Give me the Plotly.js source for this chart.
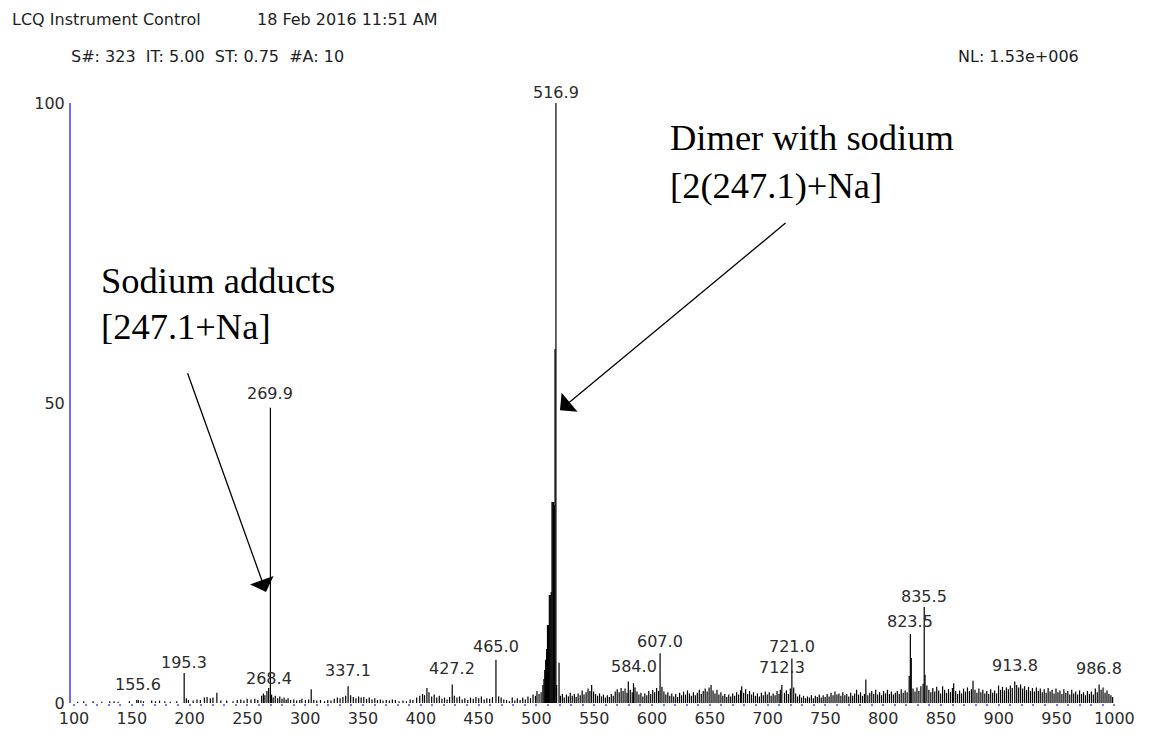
<!DOCTYPE html>
<html>
<head>
<meta charset="utf-8">
<script src="https://cdn.plot.ly/plotly-3.0.1.min.js"></script>
<style>
  html, body { margin: 0; padding: 0; background: #ffffff; }
  #chart { width: 1149px; height: 736px; }
</style>
</head>
<body>
<div id="chart"></div>
<script>
// ---- Spectrum data: m/z and relative abundance (%) ----

// Labelled centroid peaks
const peakMz  = [155.6, 195.3, 268.4, 269.9, 337.1, 427.2, 465.0, 516.9, 584.0, 607.0, 712.3, 721.0, 823.5, 835.5, 913.8, 986.8];
const peakInt = [0.5,   5.0,   2.5,   49.2,  2.8,   3.1,   7.2,   100,   3.3,   8.3,   3.0,   7.4,   11.5,  16.0,  3.6,   3.1];

// Isotope / profile envelope around the base peak
const clusterMz  = [506.5, 507.2, 508.0, 508.8, 509.6, 510.4, 511.2, 512.0, 512.8, 513.5, 514.2, 514.9, 515.5, 516.1, 517.5, 519.6];
const clusterInt = [4.0,   5.5,   7.2,   9.0,   13.0,  13.0,  18.0,  18.0,  18.5,  33.5,  33.5,  33.5,  33.0,  59.0,  3.0,   6.7];

// Neighbouring peaks of the m/z 823.5 / 835.5 pair
const pairMz  = [822.5, 824.3, 834.5, 836.2];
const pairInt = [4.5,   7.5,   3.2,   4.7];

// Low-mass background, m/z 100-260
const noiseLow = [
  [103.2,0.2],[108.4,0.3],[116.5,0.3],[124.1,0.2],[131.0,0.3],[134.6,0.3],[138.2,0.2],[147.9,0.3],
  [154.3,0.5],[157.8,0.4],[160.1,0.3],[167.2,0.4],[170.5,0.3],[174.0,0.4],[178.6,0.3],[183.2,0.2],
  [188.9,0.3],[197.2,0.8],[199.0,0.5],[203.1,0.4],[206.4,0.6],[209.3,0.5],[212.8,0.9],[215.1,1.0],
  [217.9,0.8],[220.2,0.9],[223.6,1.7],[227.0,0.4],[232.1,0.4],[237.6,0.3],[241.2,0.5],[244.3,0.6],
  [247.0,0.4],[249.8,0.7],[253.1,0.6],[256.4,0.7],[259.0,0.5]
];

// Mid-mass background, m/z 260-510
const noiseMid = [
  [262.3,1.2],[263.8,1.6],[265.1,1.3],[266.9,2.0],[270.9,1.4],[272.3,0.9],[274.1,1.2],[276.2,0.8],
  [278.0,1.1],[279.9,0.7],[281.7,0.9],[283.5,0.6],[285.2,0.8],[287.4,0.5],[290.1,0.6],[292.6,0.4],
  [295.3,0.5],[297.1,0.7],[300.2,0.5],[303.0,0.6],[305.2,2.3],[307.4,0.5],[310.0,0.4],[313.2,0.5],
  [316.7,0.3],[319.5,0.5],[322.3,0.4],[325.1,0.7],[327.8,0.9],[330.2,0.8],[332.6,1.0],[335.0,1.2],
  [339.3,1.3],[341.6,1.0],[343.9,0.8],[346.2,1.1],[348.4,0.9],[350.7,1.0],[353.1,0.7],[355.4,0.9],
  [357.8,0.6],[360.2,0.8],[362.5,0.5],[365.0,0.6],[367.3,0.4],[370.1,0.5],[372.8,0.4],[375.4,0.6],
  [378.0,0.5],[381.2,0.3],[384.6,0.4],[387.5,0.3],[390.8,0.6],[393.2,0.5],[396.4,0.9],[399.1,1.2],
  [401.5,1.5],[403.2,1.3],[405.3,2.5],[407.1,1.8],[409.4,1.1],[411.6,1.4],[413.8,0.9],[416.0,1.2],
  [418.3,0.7],[420.5,0.9],[422.7,0.6],[424.9,1.0],[429.0,1.2],[431.3,0.9],[433.5,1.1],[435.8,0.6],
  [438.1,0.8],[440.6,0.5],[443.0,0.9],[445.4,0.7],[447.7,1.0],[450.1,0.8],[452.4,1.1],[454.8,0.6],
  [457.1,0.8],[459.6,0.7],[462.0,1.0],[467.3,1.1],[469.5,0.9],[471.8,0.6],[474.2,0.5],[476.6,0.3],
  [479.1,0.9],[481.3,0.4],[483.5,0.8],[485.9,0.5],[488.2,0.9],[490.4,0.6],[492.7,1.1],[494.9,0.8],
  [497.1,1.4],[499.2,1.2],[500.5,2.0],[502.3,1.5],[504.1,1.8],[505.6,3.0]
];

// High-mass background, m/z 520-1000
const noiseHigh = [
  [520.8,1.2],[522.5,1.5],[524.1,0.9],[526.0,1.4],[527.7,1.1],[529.3,1.7],[531.0,1.2],[532.8,1.5],
  [534.4,1.0],[536.1,1.6],[537.9,1.3],[539.6,2.1],[541.2,1.4],[543.0,1.8],[544.7,2.4],[546.3,2.0],
  [547.8,3.0],[549.5,1.9],[551.2,1.5],[552.9,1.2],[554.6,1.6],[556.3,1.1],[558.0,1.4],[559.7,0.9],
  [561.4,1.3],[563.1,1.0],[564.8,1.5],[566.5,1.2],[568.2,1.9],[569.9,2.3],[571.6,1.8],[573.3,2.5],
  [575.0,2.0],[576.7,2.4],[578.4,1.7],[579.5,3.6],[581.2,2.2],[582.9,1.8],[585.3,2.6],[587.0,1.9],
  [588.7,1.4],[590.4,1.7],[592.1,1.1],[593.8,1.6],[595.5,1.3],[597.2,2.0],[598.9,1.5],[600.6,2.2],
  [602.3,1.8],[604.0,2.5],[605.7,2.0],[608.6,2.7],[610.3,1.9],[612.0,1.4],[613.7,1.8],[615.4,1.2],
  [617.1,1.6],[618.8,1.1],[620.5,1.5],[622.2,1.0],[623.9,1.7],[625.6,1.3],[627.3,1.9],[629.0,1.4],
  [630.7,2.1],[632.4,1.6],[634.1,1.2],[635.8,1.8],[637.5,1.3],[639.2,1.7],[640.9,2.2],[642.6,1.5],
  [644.3,2.0],[646.0,2.4],[647.7,1.9],[649.4,2.6],[651.1,3.0],[652.8,2.1],[654.5,1.6],[656.2,2.2],
  [657.9,1.4],[659.6,1.8],[661.3,1.2],[663.0,1.5],[664.7,1.0],[666.4,1.4],[668.1,1.1],[669.8,1.6],
  [671.5,1.2],[673.2,1.8],[674.9,1.4],[676.6,2.1],[677.6,2.8],[679.3,1.7],[681.0,2.3],[682.7,1.5],
  [684.4,2.0],[686.1,1.4],[687.8,1.8],[689.5,1.2],[691.2,1.6],[692.9,1.1],[694.6,1.7],[696.3,1.3],
  [698.0,1.9],[699.7,1.4],[701.4,1.8],[703.1,1.2],[704.8,1.6],[706.5,1.3],[708.2,2.0],[709.9,1.5],
  [711.0,2.2],[714.6,1.7],[716.3,2.1],[718.0,1.5],[719.7,2.4],[722.6,2.6],[724.3,1.6],[726.0,1.1],
  [727.7,1.4],[729.4,0.9],[731.1,1.2],[732.8,0.8],[734.5,1.1],[736.2,0.9],[737.9,1.3],[739.6,0.8],
  [741.3,1.2],[743.0,1.0],[744.7,1.4],[746.4,0.9],[748.1,1.3],[749.8,1.0],[751.5,1.5],[753.2,1.1],
  [754.9,1.7],[756.6,1.3],[758.3,1.9],[760.0,1.4],[761.7,1.6],[763.4,1.2],[765.1,1.8],[766.8,1.3],
  [768.5,1.5],[770.2,1.1],[771.9,1.7],[773.6,1.2],[775.3,1.6],[777.0,2.2],[778.7,1.4],[780.4,1.8],
  [782.1,1.2],[783.8,1.5],[785.0,3.9],[786.7,1.3],[788.4,1.7],[790.1,2.0],[791.8,1.5],[793.5,2.2],
  [795.2,1.4],[796.9,1.8],[798.6,1.3],[800.3,2.0],[802.0,1.6],[803.7,2.2],[805.4,1.5],[807.1,1.9],
  [808.8,1.4],[810.5,1.7],[812.2,2.0],[813.9,1.5],[815.6,2.3],[817.3,1.7],[819.0,2.1],[820.7,1.8],
  [825.8,2.4],[827.5,1.9],[829.2,2.6],[830.9,2.0],[832.6,2.8],[837.8,2.9],[839.5,2.2],[841.2,1.8],
  [842.9,2.5],[844.6,1.9],[846.3,2.7],[848.0,2.1],[849.7,1.6],[851.4,2.8],[853.1,2.2],[854.8,1.7],
  [856.5,2.3],[858.2,1.8],[859.9,2.5],[861.0,3.3],[862.7,2.0],[864.4,1.5],[866.1,2.1],[867.8,1.6],
  [869.5,2.4],[871.2,1.9],[872.9,2.6],[874.6,2.0],[876.3,2.3],[877.7,3.7],[879.4,2.2],[881.1,1.7],
  [882.8,2.4],[884.5,1.8],[886.2,2.2],[887.9,1.6],[889.6,2.0],[891.3,1.5],[893.0,2.3],[894.7,1.7],
  [896.4,2.1],[898.1,1.6],[899.8,2.9],[901.5,2.2],[903.2,2.7],[904.9,2.1],[906.6,2.6],[908.3,2.3],
  [910.0,2.9],[911.7,2.5],[915.5,3.0],[917.2,2.6],[918.9,3.1],[920.6,2.4],[922.3,2.8],[924.0,2.2],
  [925.7,2.7],[927.4,2.0],[929.1,2.5],[930.8,1.9],[932.5,2.6],[934.2,2.0],[935.9,2.4],[937.6,1.8],
  [939.3,2.3],[941.0,1.7],[942.7,2.5],[944.4,1.9],[946.1,2.2],[947.8,1.6],[949.5,2.4],[951.2,1.8],
  [952.9,2.1],[954.6,1.5],[956.3,2.3],[958.0,1.7],[959.7,2.0],[961.4,1.4],[963.1,2.2],[964.8,1.6],
  [966.5,1.9],[968.2,1.4],[969.9,2.1],[971.6,1.5],[973.3,1.8],[975.0,1.3],[976.7,2.0],[978.4,1.5],
  [980.1,1.9],[981.8,1.4],[983.5,2.4],[985.2,1.8],[988.5,2.2],[990.2,2.6],[991.9,1.7],[993.6,2.1],
  [995.3,1.5],[997.0,1.3],[998.5,1.0]
];

// Axis tick labels
const xTicks = [100, 150, 200, 250, 300, 350, 400, 450, 500, 550, 600, 650, 700, 750, 800, 850, 900, 950, 1000];
const yTicks = [0, 50, 100];

// Header lines
const headerLeft  = 'LCQ Instrument Control';
const headerDate  = '18 Feb 2016 11:51 AM';
const headerScan  = 'S#: 323\u00a0\u00a0IT: 5.00\u00a0\u00a0ST: 0.75\u00a0\u00a0#A: 10';
const headerNL    = 'NL: 1.53e+006';

// Callout texts
const dimerLines  = ['Dimer with sodium', '[2(247.1)+Na]'];
const adductLines = ['Sodium adducts', '[247.1+Na]'];

// ---- Styling ----
const TEXT_FONT = 'DejaVu Sans, Arial, sans-serif';
const SERIF_FONT = 'Liberation Serif, Times New Roman, serif';
// extra vertical gap (px) between each peak top and its label
const labelLift = [6, 1, 0, 5, 6, 6, 4, 1, 7, 2, 8, 3, 3, 1, 6, 6];

// Build stick segments (x, x, null / 0, y, null) for every centroid
const sx = [], sy = [];
function addSticks(mzArr, intArr) {
  for (let i = 0; i < mzArr.length; i++) {
    sx.push(mzArr[i], mzArr[i], null);
    sy.push(0, intArr[i], null);
  }
}
function addPairs(pairs) {
  addSticks(pairs.map(p => p[0]), pairs.map(p => p[1]));
}
addPairs(noiseLow);
addPairs(noiseMid);
addPairs(noiseHigh);
addSticks(clusterMz, clusterInt);
addSticks(pairMz, pairInt);
addSticks(peakMz, peakInt);

const traces = [{
  type: 'scatter',
  mode: 'lines',
  x: sx,
  y: sy,
  line: { color: '#000000', width: 1.2 },
  hoverinfo: 'skip',
  cliponaxis: false
}];

const annotations = [];

// Peak labels
peakMz.forEach((m, i) => {
  annotations.push({
    x: m, y: peakInt[i], xref: 'x', yref: 'y',
    text: m.toFixed(1),
    showarrow: false,
    xanchor: 'center', yanchor: 'bottom',
    yshift: labelLift[i] - 2,
    font: { family: TEXT_FONT, size: 16, color: '#2b2b2b' }
  });
});

// Header
function header(text, x, y) {
  annotations.push({
    text: text, xref: 'paper', yref: 'paper', x: x, y: y,
    xanchor: 'left', yanchor: 'middle', showarrow: false,
    font: { family: TEXT_FONT, size: 16, color: '#1e1e1e' }
  });
}
header(headerLeft, -0.0585, 1.14);
header(headerDate, 0.176, 1.14);
header(headerScan, -0.002, 1.078);
header(headerNL, 0.847, 1.078);

// Callout labels
function callout(text, x, y) {
  annotations.push({
    text: text, xref: 'paper', yref: 'paper', x: x, y: y,
    xanchor: 'left', yanchor: 'middle', showarrow: false,
    font: { family: SERIF_FONT, size: 36.5, color: '#000000' }
  });
}
callout(dimerLines[0], 0.571, 0.943);
callout(dimerLines[1], 0.571, 0.863);
callout(adductLines[0], 0.027, 0.705);
callout(adductLines[1], 0.027, 0.627);

// Callout arrows (tail -> head, in data coordinates)
function arrow(hx, hy, tx, ty) {
  annotations.push({
    x: hx, y: hy, ax: tx, ay: ty,
    xref: 'x', yref: 'y', axref: 'x', ayref: 'y',
    text: '', showarrow: true,
    arrowhead: 1, arrowsize: 3.2, arrowwidth: 1.3, arrowcolor: '#000000',
    standoff: 0, startstandoff: 0
  });
}
arrow(520.4, 48.8, 716.8, 80.2);
arrow(266.1, 18.5, 197.8, 55.2);

const layout = {
  width: 1149,
  height: 736,
  margin: { l: 71, r: 33, t: 103, b: 33, pad: 0 },
  paper_bgcolor: '#ffffff',
  plot_bgcolor: '#ffffff',
  showlegend: false,
  xaxis: {
    range: [97.4, 1001.4],
    tickvals: xTicks,
    ticktext: xTicks.map(String),
    ticks: '',
    showgrid: false,
    zeroline: false,
    showline: false,
    ticklabelstandoff: 4,
    tickfont: { family: TEXT_FONT, size: 16, color: '#2b2b2b' },
    minor: { dtick: 10, tick0: 100, ticks: 'outside', ticklen: 2, tickcolor: '#7878ff', tickwidth: 2 }
  },
  yaxis: {
    range: [0, 100],
    tickvals: yTicks,
    ticktext: yTicks.map(String),
    ticks: '',
    showgrid: false,
    zeroline: false,
    showline: true,
    linecolor: '#6b6bff',
    linewidth: 2,
    ticklabelstandoff: 1,
    tickfont: { family: TEXT_FONT, size: 16, color: '#2b2b2b' }
  },
  shapes: [{
    type: 'line', xref: 'paper', yref: 'y',
    x0: 0, x1: 1, y0: -0.3, y1: -0.3,
    line: { color: '#7878ff', width: 1.5, dash: 'dot' }
  }],
  annotations: annotations
};

Plotly.newPlot('chart', traces, layout, { staticPlot: true, displayModeBar: false });
</script>
</body>
</html>
